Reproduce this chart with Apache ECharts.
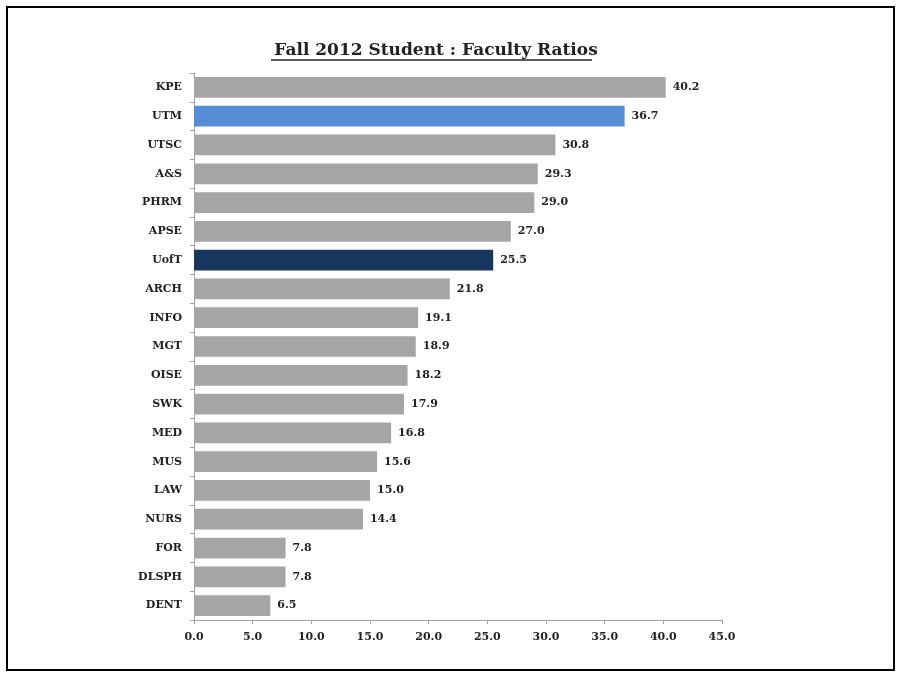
<!DOCTYPE html>
<html lang="en">
<head>
    <meta charset="UTF-8">
    <title>Fall 2012 Student : Faculty Ratios</title>
    <script type="text/javascript" src="https://cdn.jsdelivr.net/npm/echarts@6/dist/echarts.min.js"></script>
    <style>
        body { margin: 0; background: #fff; }
        #frame { position: absolute; left: 6px; top: 6px; width: 885px; height: 661px; border: 2px solid #000; }
        #bar { position: absolute; left: 0; top: 0; width: 899px; height: 675px; }
    </style>
</head>
<body>
<div id="frame"></div>
<div id="bar"></div>
<script>
    var faculties = ['KPE', 'UTM', 'UTSC', 'A&S', 'PHRM', 'APSE', 'UofT', 'ARCH', 'INFO', 'MGT',
        'OISE', 'SWK', 'MED', 'MUS', 'LAW', 'NURS', 'FOR', 'DLSPH', 'DENT'];
    var ratios = [40.2, 36.7, 30.8, 29.3, 29.0, 27.0, 25.5, 21.8, 19.1, 18.9,
        18.2, 17.9, 16.8, 15.6, 15.0, 14.4, 7.8, 7.8, 6.5];
    var highlight = {'UTM': '#558ed5', 'UofT': '#17375e'};

    var serif = 'DejaVu Serif';

    var option = {
        animation: false,
        title: {
            text: 'Fall 2012 Student : Faculty Ratios',
            left: 431,
            textAlign: 'center',
            top: 37,
            textStyle: {fontFamily: serif, fontWeight: 'bold', fontSize: 17, color: '#222'}
        },
        // underline under the title
        graphic: [{
            type: 'line',
            shape: {x1: 271, y1: 60, x2: 592, y2: 60},
            style: {stroke: '#222', lineWidth: 1.5}
        }],
        grid: {left: 194, right: 177, top: 73, bottom: 55},
        xAxis: {
            type: 'value',
            min: 0,
            max: 45,
            interval: 5,
            axisLine: {show: true, lineStyle: {color: '#a0a0a0'}},
            axisTick: {show: true, length: 4, lineStyle: {color: '#a0a0a0'}},
            splitLine: {show: false},
            axisLabel: {
                margin: 12,
                fontFamily: serif, fontWeight: 'bold', fontSize: 11, color: '#222',
                formatter: function (v) { return v.toFixed(1); }
            }
        },
        yAxis: {
            type: 'category',
            data: faculties,
            inverse: true,
            axisLine: {show: true, lineStyle: {color: '#a0a0a0'}},
            axisTick: {show: true, length: 4, lineStyle: {color: '#a0a0a0'}},
            axisLabel: {margin: 12, fontFamily: serif, fontWeight: 'bold', fontSize: 11, color: '#222'}
        },
        series: [{
            type: 'bar',
            barCategoryGap: '28%',
            data: ratios.map(function (v, i) {
                return {value: v, itemStyle: {color: highlight[faculties[i]] || '#a5a5a5'}};
            }),
            label: {
                show: true,
                position: 'right',
                distance: 7,
                fontFamily: serif, fontWeight: 'bold', fontSize: 11, color: '#222',
                formatter: function (p) { return p.value.toFixed(1); }
            }
        }]
    };

    var myChart = echarts.init(document.getElementById('bar'));
    myChart.setOption(option);
</script>
</body>
</html>
